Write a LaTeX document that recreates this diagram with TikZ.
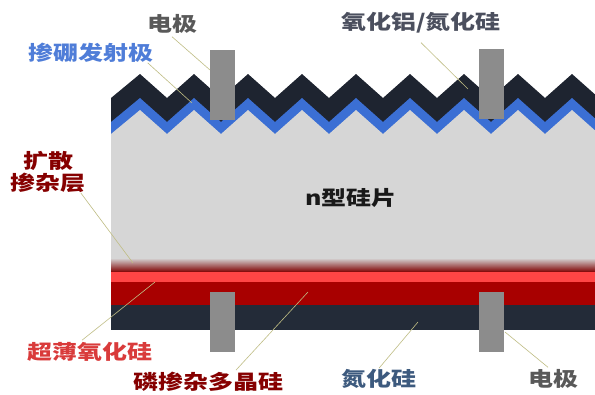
\documentclass[tikz,border=0pt]{standalone}
\usepackage{fontspec}
\usepackage{tikz}
\usetikzlibrary{positioning}
\newfontfamily\hei{Noto Sans CJK SC}

\definecolor{topcoat}{HTML}{1E2430}
\definecolor{emitter}{HTML}{3B6FD4}
\definecolor{wafer}{HTML}{D6D6D6}
\definecolor{elec}{HTML}{8C8C8C}
\definecolor{oxide}{HTML}{FF4545}
\definecolor{poly}{HTML}{A80000}
\definecolor{backcoat}{HTML}{232B38}
\definecolor{leader}{HTML}{BFBD84}
\definecolor{slate}{HTML}{4B4F5E}
\definecolor{nitride}{HTML}{3D5A7E}

\tikzset{
  lbl/.style={font=\hei\bfseries\fontsize{20}{22}\selectfont, inner sep=0pt,
              xscale=1.25},
  lead/.style={draw=leader, line width=0.6pt},
  electrode/.style={fill=elec, draw=none, inner sep=0pt, minimum width=25pt},
}

% textured front: valleys at 113+54k, peaks at 140+54k
\newcommand{\sawline}[1]{(111,{98+#1})
  foreach \k in {0,...,8} {-- ({140+54*\k},{74+#1}) -- ({167+54*\k},{98+#1})}}

\begin{document}
\begin{tikzpicture}[x=1pt, y=-1pt]
  \useasboundingbox[fill=white] (0,0) rectangle (595,394);

  \begin{scope}
    \clip (0,0) rectangle (595,394);
    % front layers
    \fill[topcoat] \sawline{0} -- (595,200) -- (111,200) -- cycle;
    \fill[emitter] \sawline{24} -- (595,200) -- (111,200) -- cycle;
    \fill[wafer] \sawline{36} -- (595,259) -- (111,259) -- cycle;
    % rear layers
    \shade[top color=wafer, bottom color=poly!75!black] (111,258) rectangle (595,272);
    \fill[oxide] (111,272) rectangle (595,282);
    \fill[poly] (111,282) rectangle (595,305);
    \fill[backcoat] (111,305) rectangle (595,330);
  \end{scope}

  % contacts
  \node[electrode, minimum height=70pt] (ftl) at (222,85) {};
  \node[electrode, minimum height=70pt] (ftr) at (491,84) {};
  \node[electrode, minimum height=60pt] (rel) at (222,322) {};
  \node[electrode, minimum height=60pt] (rer) at (491,322) {};

  \node[lbl, text=black!90] (wafr) at (351,198) {n型硅片};

  % labels
  \node[lbl, text=black!65] (eltop) at (172,24) {电极};
  \node[lbl, text=emitter!90!white] (emit) at (91,53) {掺硼发射极};
  \node[lbl, text=slate] (arc) at (421,23) {氧化铝/氮化硅};
  \node[lbl, text=poly!80!black, align=center] (diff) at (48,172) {扩散\\掺杂层};
  \node[lbl, text=oxide!85!black] (tox) at (90,352) {超薄氧化硅};
  \node[lbl, text=poly!80!black] (ppoly) at (208,382) {磷掺杂多晶硅};
  \node[lbl, text=nitride] (sinx) at (379,379) {氮化硅};
  \node[lbl, text=black!65] (elbot) at (553,379) {电极};

  % leader lines
  \coordinate (t1) at (210,70);
  \coordinate (t2) at (192,103);
  \coordinate (t3) at (468,89);
  \coordinate (t4) at (133,263);
  \coordinate (t5) at (155,282);
  \coordinate (t6) at (308,292);
  \coordinate (t7) at (418,322);
  \coordinate (t8) at (505,332);

  \draw[lead] ([yshift=-3pt]eltop.south) -- (t1);
  \draw[lead] ([xshift=-6pt]emit.south east) -- (t2);
  \draw[lead] ([yshift=-9pt]arc.south) -- (t3);
  \draw[lead] ([xshift=-5pt]diff.south east) -- (t4);
  \draw[lead] ([xshift=-8pt,yshift=2pt]tox.north) -- (t5);
  \draw[lead] ([xshift=28pt,yshift=2pt]ppoly.north) -- (t6);
  \draw[lead] ([yshift=1pt]sinx.north) -- (t7);
  \draw[lead] ([xshift=-5pt,yshift=2pt]elbot.north) -- (t8);
\end{tikzpicture}
\end{document}
